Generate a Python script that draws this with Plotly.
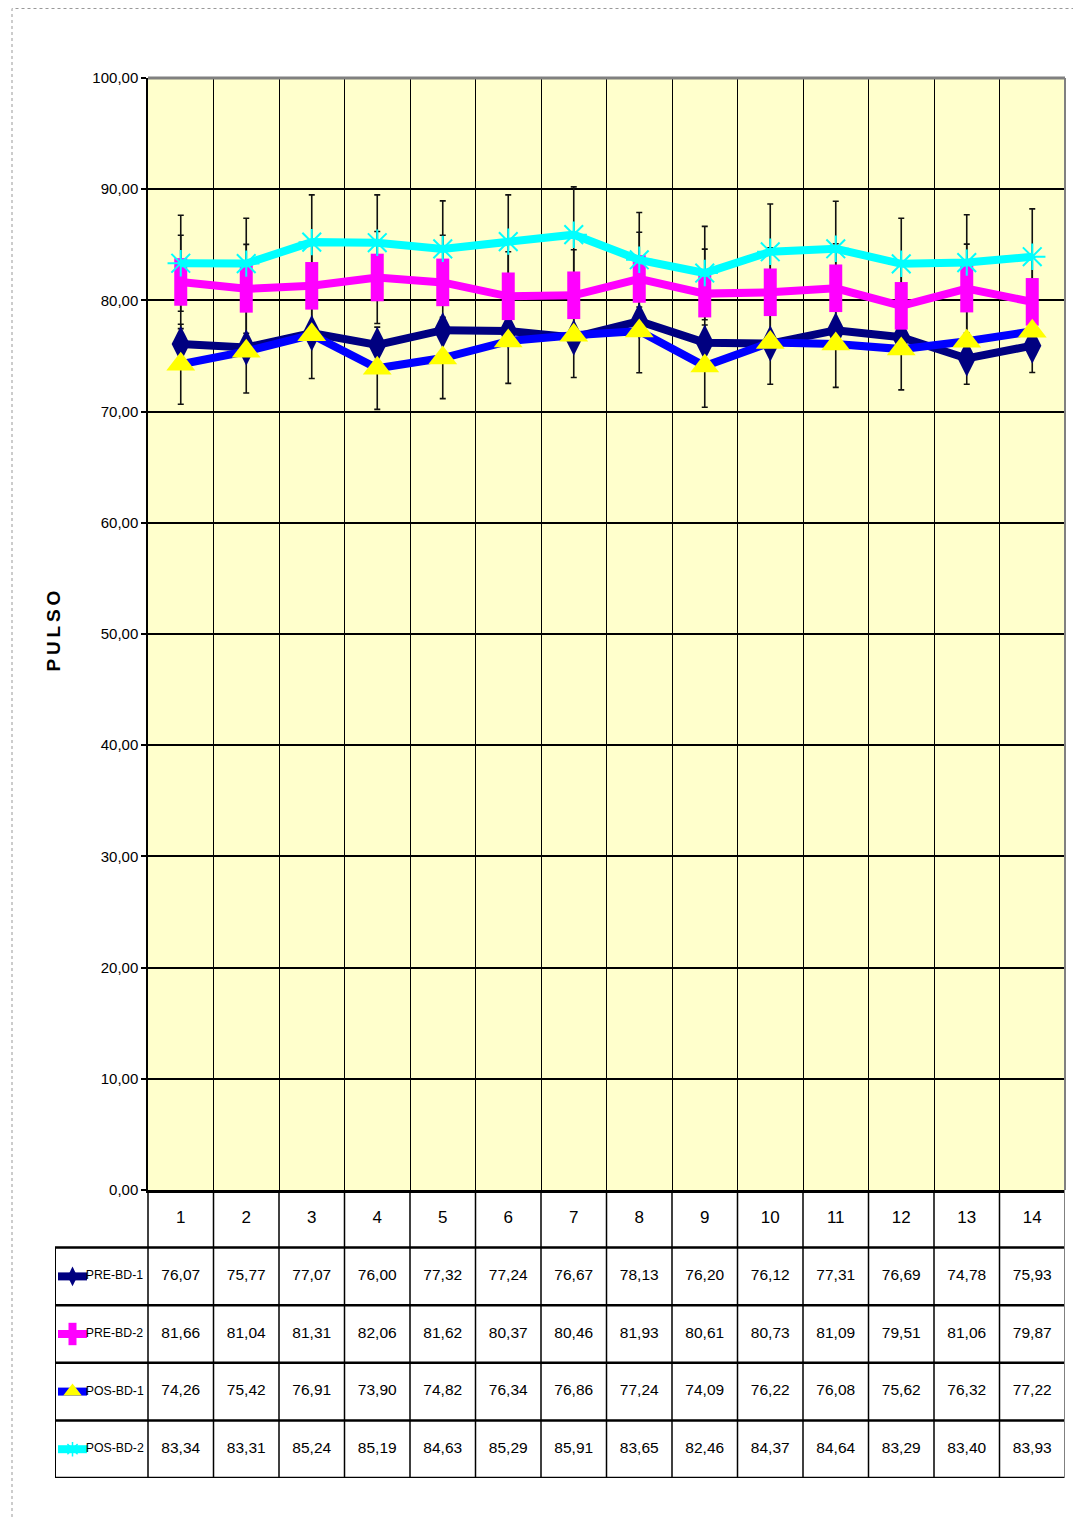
import plotly.graph_objects as go

categories = list(range(1, 15))
series_names = ['PRE-BD-1', 'PRE-BD-2', 'POS-BD-1', 'POS-BD-2']
pre_bd_1 = [76.07, 75.77, 77.07, 76.00, 77.32, 77.24, 76.67, 78.13, 76.20, 76.12, 77.31, 76.69, 74.78, 75.93]
pre_bd_2 = [81.66, 81.04, 81.31, 82.06, 81.62, 80.37, 80.46, 81.93, 80.61, 80.73, 81.09, 79.51, 81.06, 79.87]
pos_bd_1 = [74.26, 75.42, 76.91, 73.90, 74.82, 76.34, 76.86, 77.24, 74.09, 76.22, 76.08, 75.62, 76.32, 77.22]
pos_bd_2 = [83.34, 83.31, 85.24, 85.19, 84.63, 85.29, 85.91, 83.65, 82.46, 84.37, 84.64, 83.29, 83.40, 83.93]

# error bar sizes (estimated from the caps)
err_pre_bd_2 = [4.20, 4.00, 4.00, 4.14, 4.24, 4.00, 4.10, 4.20, 4.00, 4.00, 4.00, 4.00, 4.00, 4.00]
err_pos_bd_1 = [3.60, 3.75, 3.93, 3.70, 3.65, 3.80, 3.80, 3.74, 3.70, 3.76, 3.90, 3.67, 3.86, 3.70]
err_pos_bd_2 = [4.32, 4.08, 4.25, 4.30, 4.32, 4.20, 4.30, 4.25, 4.20, 4.30, 4.28, 4.10, 4.30, 4.30]

values = [pre_bd_1, pre_bd_2, pos_bd_1, pos_bd_2]
errors = [None, err_pre_bd_2, err_pos_bd_1, err_pos_bd_2]
line_colors = ['#000080', '#FF00FF', '#0000FF', '#00FFFF']
marker_colors = ['#000080', '#FF00FF', '#FFFF00', '#00FFFF']
symbols = ['diamond-tall', 'line-ns', 'triangle-up', 'asterisk-open']
msizes = [26, 34, 25, 22]
mline = [0, 13, 0, 2]
key_sizes = [14, 16, 16, 12]
key_mline = [0, 8, 0, 1.5]

FONT = 'Liberation Sans, Arial, sans-serif'

# page is drawn 8px in from the window corner (body margin)
W, H = 1073, 1509
ML, MR, MT, MB = 47, 16, 70, 39
pw = W - ML - MR
ph = H - MT - MB
table_h = 288
label_w = 93
unit = (pw - label_w) / len(categories)
x2_left = 0.5 - label_w / unit


def fmt(v):
    return f'{v:.2f}'.replace('.', ',')


fig = go.Figure()

# error bars first so lines and markers sit on top
for vals, err in zip(values, errors):
    if err is None:
        continue
    fig.add_trace(go.Scatter(x=categories, y=vals, mode='markers',
                             marker=dict(size=1, opacity=0),
                             error_y=dict(type='data', array=err, visible=True, color='#111111',
                                          thickness=1.6, width=3),
                             showlegend=False, hoverinfo='skip'))

for name, vals, lc, mc, sym, ms, mlw in zip(series_names, values, line_colors,
                                            marker_colors, symbols, msizes, mline):
    fig.add_trace(go.Scatter(x=categories, y=vals, name=name, mode='lines+markers',
                             line=dict(color=lc, width=8),
                             marker=dict(symbol=sym, size=ms, color=mc,
                                         line=dict(width=mlw, color=mc))))

# data table below the plot
fig.add_trace(go.Scatter(x=categories, y=[4.5] * len(categories), mode='text',
                         text=[str(c) for c in categories],
                         textfont=dict(family=FONT, size=17, color='black'),
                         xaxis='x2', yaxis='y2', showlegend=False, hoverinfo='skip'))

key_x0 = x2_left + 3 / unit
key_x1 = x2_left + 32 / unit
key_mid = (key_x0 + key_x1) / 2
for i, (name, vals) in enumerate(zip(series_names, values)):
    row = 3.5 - i
    fig.add_trace(go.Scatter(x=categories, y=[row] * len(categories), mode='text',
                             text=[fmt(v) for v in vals],
                             textfont=dict(family=FONT, size=15.5, color='black'),
                             xaxis='x2', yaxis='y2', showlegend=False, hoverinfo='skip'))
    fig.add_trace(go.Scatter(x=[key_x0, key_x1], y=[row, row], mode='lines',
                             line=dict(color=line_colors[i], width=8),
                             xaxis='x2', yaxis='y2', showlegend=False, hoverinfo='skip'))
    fig.add_trace(go.Scatter(x=[key_mid], y=[row], mode='markers',
                             marker=dict(symbol=symbols[i], size=key_sizes[i],
                                         color=marker_colors[i],
                                         line=dict(width=key_mline[i], color=marker_colors[i])),
                             xaxis='x2', yaxis='y2', showlegend=False, hoverinfo='skip'))
    fig.add_trace(go.Scatter(x=[key_x1 - 0.02], y=[row], mode='text', text=[name],
                             textposition='middle right',
                             textfont=dict(family=FONT, size=12.3, color='black'),
                             xaxis='x2', yaxis='y2', showlegend=False, hoverinfo='skip'))

shapes = []
# yellow plot background
shapes.append(dict(type='rect', xref='x domain', yref='y domain', x0=0, x1=1, y0=0, y1=1,
                   fillcolor='#FFFFCC', line=dict(width=0), layer='below'))
# grey top and right frame
shapes.append(dict(type='line', xref='x domain', yref='y domain', x0=0, x1=1, y0=1, y1=1,
                   line=dict(color='#808080', width=3)))
shapes.append(dict(type='line', xref='x domain', yref='y domain', x0=1, x1=1, y0=0, y1=1,
                   line=dict(color='#808080', width=2)))
# table lines
for r in range(0, 5):
    shapes.append(dict(type='line', xref='x2', yref='y2', x0=x2_left, x1=14.5, y0=r, y1=r,
                       line=dict(color='black', width=2.5)))
for k in range(len(categories)):
    shapes.append(dict(type='line', xref='x2', yref='y2', x0=k + 0.5, x1=k + 0.5, y0=0, y1=5,
                       line=dict(color='black', width=1.5)))
shapes.append(dict(type='line', xref='x2', yref='y2', x0=14.5, x1=14.5, y0=0, y1=5,
                   line=dict(color='#808080', width=2)))
shapes.append(dict(type='line', xref='x2', yref='y2', x0=x2_left, x1=x2_left, y0=0, y1=4,
                   line=dict(color='black', width=2)))
# dotted page border
shapes.append(dict(type='rect', xref='paper', yref='paper',
                   x0=(4 - ML) / pw, x1=(1070 - ML) / pw,
                   y0=-(MB + 20) / ph, y1=1 + (MT - 0.5) / ph,
                   line=dict(color='#999999', width=1, dash='dot')))

fig.update_layout(
    width=W, height=H,
    margin=dict(l=ML, r=MR, t=MT, b=MB),
    paper_bgcolor='white', plot_bgcolor='white',
    separators=',.',
    showlegend=False,
    shapes=shapes,
    xaxis=dict(domain=[label_w / pw, 1], range=[0.5, 14.5], anchor='y',
               tick0=0.5, dtick=1, showticklabels=False, ticks='',
               showgrid=True, gridcolor='black', gridwidth=1.2, zeroline=False,
               showline=True, linecolor='black', linewidth=3),
    yaxis=dict(domain=[table_h / ph, 1], range=[0, 100], dtick=10, tickformat='.2f',
               showgrid=True, gridcolor='black', gridwidth=2, zeroline=False,
               showline=True, linecolor='black', linewidth=1.5,
               ticks='outside', ticklen=5, tickwidth=2, tickcolor='black',
               tickfont=dict(family=FONT, size=15, color='black')),
    xaxis2=dict(domain=[0, 1], range=[x2_left, 14.5], anchor='y2', visible=False),
    yaxis2=dict(domain=[0, table_h / ph], range=[0, 5], anchor='x2', visible=False),
    annotations=[dict(text='<b>P\u2009U\u2009L\u2009S\u2009O</b>', xref='paper', yref='paper',
                      x=(32 - ML) / pw, y=(H - MB - 623) / ph, showarrow=False,
                      textangle=-90, font=dict(family=FONT, size=19, color='black'))],
)

fig.write_html('out.html')
